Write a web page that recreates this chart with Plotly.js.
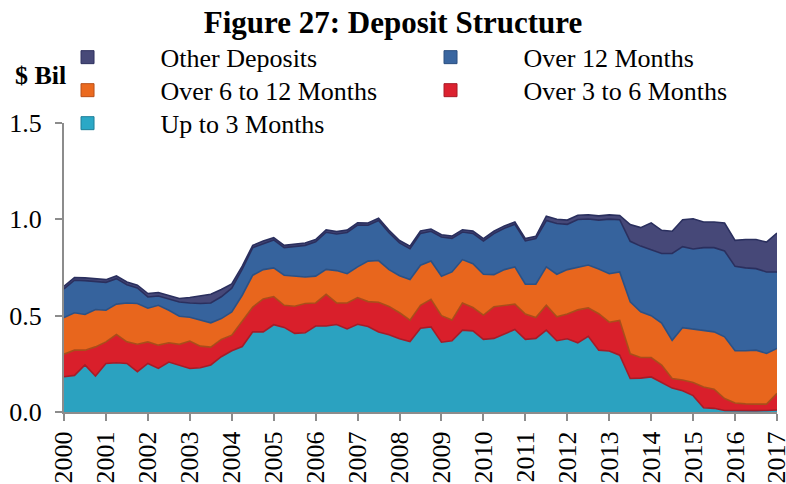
<!DOCTYPE html>
<html>
<head>
<meta charset="utf-8">
<script src="https://cdn.plot.ly/plotly-3.0.1.min.js"></script>
<style>html,body{margin:0;padding:0;background:#fff;}</style>
</head>
<body>
<div id="chart" style="width:786px;height:484px;"></div>
<script>
// Quarterly observations, 2000Q1 .. 2017Q1 ($ billions)
const quarters = [2000,2000.25,2000.5,2000.75,2001,2001.25,2001.5,2001.75,2002,2002.25,
  2002.5,2002.75,2003,2003.25,2003.5,2003.75,2004,2004.25,2004.5,2004.75,
  2005,2005.25,2005.5,2005.75,2006,2006.25,2006.5,2006.75,2007,2007.25,
  2007.5,2007.75,2008,2008.25,2008.5,2008.75,2009,2009.25,2009.5,2009.75,
  2010,2010.25,2010.5,2010.75,2011,2011.25,2011.5,2011.75,2012,2012.25,
  2012.5,2012.75,2013,2013.25,2013.5,2013.75,2014,2014.25,2014.5,2014.75,
  2015,2015.25,2015.5,2015.75,2016,2016.25,2016.5,2016.75,2017];

const upTo3Months = [0.183,0.190,0.244,0.187,0.252,0.256,0.252,0.209,0.252,0.226,
  0.259,0.244,0.226,0.230,0.244,0.287,0.318,0.340,0.416,0.416,
  0.453,0.439,0.408,0.411,0.446,0.446,0.454,0.431,0.455,0.444,
  0.415,0.401,0.380,0.366,0.435,0.442,0.362,0.370,0.425,0.421,
  0.377,0.382,0.404,0.428,0.377,0.382,0.425,0.370,0.380,0.359,
  0.393,0.321,0.317,0.295,0.174,0.176,0.182,0.153,0.124,0.110,
  0.085,0.022,0.019,0.008,0.007,0.007,0.007,0.008,0.010];

const over3to6Months = [0.117,0.131,0.077,0.151,0.112,0.146,0.112,0.143,0.112,0.121,
  0.100,0.107,0.142,0.112,0.093,0.090,0.081,0.132,0.129,0.171,
  0.146,0.115,0.141,0.152,0.120,0.165,0.112,0.135,0.139,0.129,
  0.155,0.147,0.135,0.111,0.119,0.143,0.138,0.107,0.141,0.121,
  0.126,0.164,0.150,0.132,0.131,0.108,0.129,0.124,0.129,0.171,
  0.147,0.189,0.149,0.180,0.128,0.107,0.101,0.091,0.050,0.056,
  0.068,0.108,0.099,0.062,0.040,0.035,0.034,0.033,0.087];

const over6to12Months = [0.190,0.194,0.185,0.194,0.164,0.158,0.202,0.211,0.175,0.207,
  0.169,0.146,0.124,0.135,0.126,0.108,0.121,0.134,0.165,0.152,
  0.149,0.156,0.156,0.138,0.139,0.129,0.168,0.152,0.159,0.210,
  0.216,0.191,0.192,0.211,0.208,0.199,0.205,0.250,0.225,0.228,
  0.212,0.167,0.185,0.193,0.155,0.173,0.199,0.221,0.230,0.220,
  0.223,0.232,0.252,0.252,0.270,0.237,0.217,0.218,0.198,0.272,
  0.277,0.291,0.298,0.320,0.271,0.276,0.280,0.263,0.233];

const over12Months = [0.149,0.169,0.176,0.147,0.145,0.132,0.095,0.081,0.058,0.048,
  0.060,0.074,0.074,0.086,0.103,0.113,0.123,0.136,0.143,0.136,
  0.145,0.143,0.153,0.164,0.178,0.193,0.190,0.214,0.217,0.186,
  0.208,0.192,0.171,0.160,0.165,0.154,0.203,0.174,0.143,0.157,
  0.173,0.213,0.215,0.221,0.225,0.237,0.241,0.263,0.235,0.249,
  0.239,0.254,0.283,0.271,0.314,0.341,0.342,0.361,0.451,0.420,
  0.416,0.432,0.437,0.446,0.438,0.430,0.423,0.423,0.397];

const otherDeposits = [0.014,0.014,0.014,0.014,0.014,0.014,0.014,0.014,0.018,0.018,
  0.018,0.018,0.028,0.038,0.045,0.038,0.022,0.015,0.012,0.012,
  0.012,0.012,0.012,0.012,0.012,0.012,0.012,0.012,0.012,0.012,
  0.012,0.012,0.012,0.012,0.012,0.012,0.012,0.012,0.012,0.012,
  0.012,0.012,0.012,0.012,0.012,0.012,0.022,0.022,0.022,0.022,
  0.022,0.022,0.022,0.022,0.087,0.096,0.140,0.120,0.115,0.140,
  0.157,0.133,0.133,0.145,0.135,0.147,0.151,0.155,0.202];

const seriesNames = ["Up to 3 Months","Over 3 to 6 Months","Over 6 to 12 Months","Over 12 Months","Other Deposits"];
const yearTicks = [2000,2001,2002,2003,2004,2005,2006,2007,2008,2009,2010,2011,2012,2013,2014,2015,2016,2017];
const yearLabels = ["2000","2001","2002","2003","2004","2005","2006","2007","2008","2009","2010","2011","2012","2013","2014","2015","2016","2017"];
const yTicks = [0, 0.5, 1.0, 1.5];

const seriesValues = [upTo3Months, over3to6Months, over6to12Months, over12Months, otherDeposits];
const fillColors = ["#2BA2C0", "#D91F2B", "#E8661D", "#36639D", "#464878"];
const edgeColors = ["#A51C28", "#A94E1A", "#2B5185", "#2A2F5E", "#2A2F5E"];
const swatchFill = ["#2BA8C6", "#DC2230", "#EB6A1F", "#3A66A0", "#474978"];
const swatchEdge = ["#1E7F99", "#A81B27", "#B8501A", "#2B4F80", "#2F3160"];

const FONT = "Liberation Serif, Times New Roman, serif";

const traces = [];
for (let k = 0; k < seriesValues.length; k++) {
  traces.push({
    type: "scatter", mode: "lines", x: quarters, y: seriesValues[k],
    name: seriesNames[k], stackgroup: "dep", showlegend: false,
    fillcolor: fillColors[k],
    line: {color: edgeColors[k], width: 1.6, shape: "linear"},
    hoverinfo: "skip"
  });
}
// legend swatches: three rows as in the reference
const legendRows = [[4, 3], [2, 1], [0]];
const legendIds = ["legend", "legend2", "legend3"];
legendRows.forEach((row, r) => {
  for (const k of row) {
    traces.push({
      type: "scatter", mode: "markers", x: [null], y: [null],
      name: seriesNames[k], showlegend: true, legend: legendIds[r],
      marker: {symbol: "square", size: 13, color: swatchFill[k], line: {color: swatchEdge[k], width: 1}}
    });
  }
});

function legendBox(yc) {
  return {
    orientation: "h", traceorder: "normal",
    x: -0.0694, xanchor: "left", y: yc, yanchor: "middle",
    entrywidth: 212, entrywidthmode: "pixels",
    itemwidth: 136, bgcolor: "rgba(0,0,0,0)", borderwidth: 0,
    font: {family: FONT, size: 26, color: "#000000"}
  };
}

const layout = {
  width: 786, height: 484,
  margin: {l: 64, r: 9, t: 123, b: 72, pad: 0},
  paper_bgcolor: "#ffffff", plot_bgcolor: "#ffffff",
  font: {family: FONT, size: 26, color: "#000000"},
  title: {
    text: "<b>Figure 27: Deposit Structure</b>",
    font: {family: FONT, size: 31, color: "#000000"},
    xref: "container", x: 0.5, xanchor: "center",
    yref: "container", y: 0.955, yanchor: "middle"
  },
  showlegend: true,
  legend: legendBox(1.2275),
  legend2: legendBox(1.1133),
  legend3: legendBox(0.9991),
  xaxis: {
    range: [2000, 2017], tickmode: "array", tickvals: yearTicks, ticktext: yearLabels,
    tickangle: -90, ticks: "outside", ticklen: 7, tickwidth: 2, tickcolor: "#8C8C8C",
    showline: true, linecolor: "#8C8C8C", linewidth: 2,
    showgrid: false, zeroline: false, ticklabeloverflow: "allow",
    tickfont: {family: FONT, size: 26, color: "#000000"}
  },
  yaxis: {
    range: [0, 1.5], tickmode: "array", tickvals: yTicks, tickformat: ".1f",
    ticks: "outside", ticklen: 7, tickwidth: 2, tickcolor: "#8C8C8C",
    showline: true, linecolor: "#8C8C8C", linewidth: 2,
    showgrid: false, zeroline: false, ticklabelstandoff: 8,
    tickfont: {family: FONT, size: 26, color: "#000000"}
  },
  annotations: [{
    text: "<b>$ Bil</b>", xref: "paper", yref: "paper",
    x: -0.0336, y: 1.165, xanchor: "center", yanchor: "middle", showarrow: false,
    font: {family: FONT, size: 26, color: "#000000"}
  }]
};

Plotly.newPlot("chart", traces, layout, {staticPlot: true, displayModeBar: false});
</script>
</body>
</html>
